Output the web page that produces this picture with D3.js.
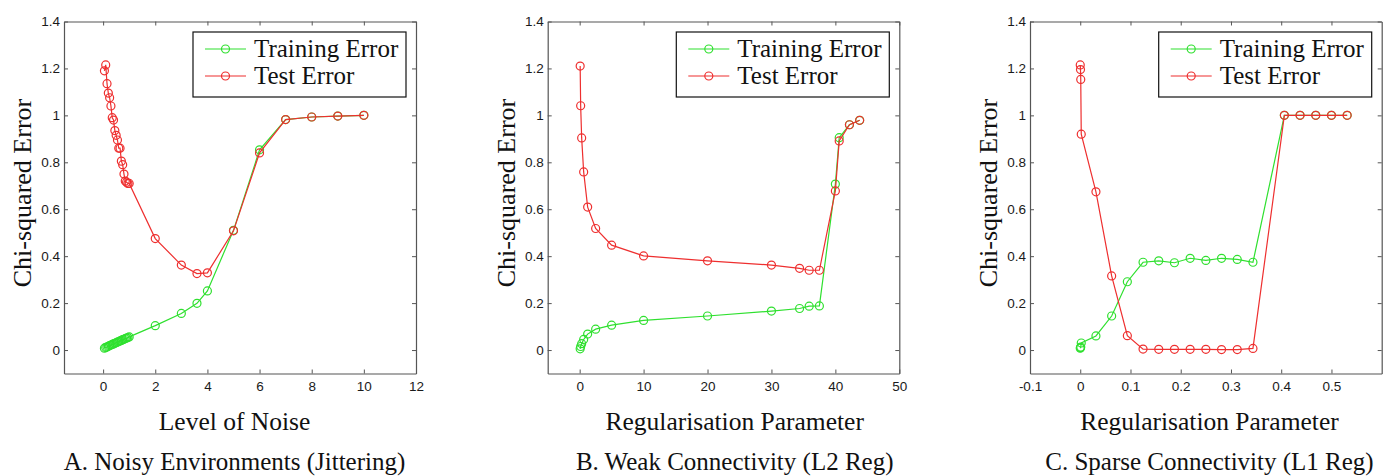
<!DOCTYPE html>
<html>
<head>
<meta charset="utf-8">
<script src="https://cdn.jsdelivr.net/npm/d3@7"></script>
<style>
  html, body { margin: 0; padding: 0; background: #fff; }
  svg { display: block; }
</style>
</head>
<body>
<svg id="chart" width="1390" height="476"></svg>
<script>
// ---------- DATA ----------
const seriesNames = ["Training Error", "Test Error"];
const yTicks = [0, 0.2, 0.4, 0.6, 0.8, 1, 1.2, 1.4];

// Panel A: Noisy Environments (Jittering)
const noiseX = [0.05, 0.1, 0.15, 0.2, 0.25, 0.3, 0.35, 0.4, 0.45, 0.5, 0.55, 0.6, 0.65, 0.7, 0.75, 0.8, 0.85, 0.9, 0.95, 1.0,
                2, 3, 3.6, 4, 5, 6, 7, 8, 9, 10];
const noiseTrain = [0.008, 0.011, 0.013, 0.016, 0.019, 0.021, 0.024, 0.026, 0.029, 0.031, 0.034, 0.036, 0.039, 0.041, 0.044, 0.046, 0.049, 0.051, 0.053, 0.056,
                    0.104, 0.156, 0.199, 0.252, 0.51, 0.853, 0.982, 0.993, 0.997, 1.0];
const noiseTest = [1.19, 1.215, 1.135, 1.095, 1.075, 1.04, 0.99, 0.98, 0.935, 0.915, 0.895, 0.86, 0.86, 0.805, 0.79, 0.75, 0.72, 0.715, 0.71, 0.71,
                   0.475, 0.362, 0.326, 0.329, 0.508, 0.84, 0.982, 0.993, 0.997, 1.0];
const noiseXTicks = [0, 2, 4, 6, 8, 10, 12];

// Panel B: Weak Connectivity (L2 Reg)
const l2X = [0.078, 0.156, 0.3125, 0.625, 1.25, 2.5, 5, 10, 20, 30, 34.4, 35.9, 37.5, 40, 40.6, 42.2, 43.8];
const l2Train = [0.005, 0.015, 0.027, 0.045, 0.068, 0.089, 0.106, 0.126, 0.145, 0.166, 0.177, 0.187, 0.188, 0.707, 0.905, 0.96, 0.979];
const l2Test = [1.21, 1.041, 0.904, 0.759, 0.609, 0.518, 0.447, 0.401, 0.38, 0.362, 0.348, 0.34, 0.34, 0.678, 0.891, 0.96, 0.979];
const l2XTicks = [0, 10, 20, 30, 40, 50];

// Panel C: Sparse Connectivity (L1 Reg)
const l1X = [0, 0.0005, 0.001, 0.002, 0.03125, 0.0625, 0.09375, 0.125, 0.15625, 0.1875, 0.21875, 0.25, 0.28125, 0.3125, 0.34375,
             0.40625, 0.4375, 0.46875, 0.5, 0.53125];
const l1Train = [0.008, 0.01, 0.013, 0.03, 0.06, 0.145, 0.291, 0.374, 0.38, 0.372, 0.391, 0.382, 0.391, 0.386, 0.374,
                 1, 1, 1, 1, 1];
const l1Test = [1.215, 1.195, 1.153, 0.92, 0.674, 0.316, 0.061, 0.004, 0.003, 0.003, 0.003, 0.003, 0.002, 0.002, 0.007,
                1, 1, 1, 1, 1];
const l1XTicks = [-0.1, 0, 0.1, 0.2, 0.3, 0.4, 0.5];

const xLabels = ["Level of Noise", "Regularisation Parameter", "Regularisation Parameter"];
const captions = ["A. Noisy Environments (Jittering)", "B. Weak Connectivity (L2 Reg)", "C. Sparse Connectivity (L1 Reg)"];

// ---------- LAYOUT ----------
const panels = [
  { x: noiseX, train: noiseTrain, test: noiseTest, ticks: noiseXTicks, domain: [-1.5, 12],
    left: 64, right: 416, labelCx: 234.5 },
  { x: l2X, train: l2Train, test: l2Test, ticks: l2XTicks, domain: [-5, 50],
    left: 547.7, right: 899.3, labelCx: 734.7 },
  { x: l1X, train: l1Train, test: l1Test, ticks: l1XTicks, domain: [-0.1, 0.6],
    left: 1030, right: 1381.7, labelCx: 1209.5 }
];
const plotTop = 21.5, plotBottom = 373.5;
const colors = ["#2fe02f", "#ee2f2f"];
const axisColor = "#555";
const serif = "'Liberation Serif', 'Times New Roman', serif";
const sans = "'Liberation Sans', Arial, sans-serif";
const fmt = v => String(Math.round(v * 100) / 100);

const svg = d3.select("#chart");

panels.forEach((p, i) => {
  const xs = d3.scaleLinear().domain(p.domain).range([p.left, p.right]);
  const ys = d3.scaleLinear().domain([-0.1, 1.4]).range([plotBottom, plotTop]);
  const g = svg.append("g");

  // axes (MATLAB-style box with inward ticks)
  const styleAxis = sel => {
    sel.select(".domain").attr("stroke", axisColor).attr("stroke-width", 1.2).attr("fill", "none");
    sel.selectAll(".tick line").attr("stroke", axisColor).attr("stroke-width", 1);
    sel.selectAll(".tick text").attr("fill", "#1a1a1a").style("font-family", sans).style("font-size", "13.5px");
  };
  g.append("g").attr("transform", `translate(0,${plotBottom})`)
    .call(d3.axisBottom(xs).tickValues(p.ticks).tickFormat(fmt).tickSizeInner(-4).tickSizeOuter(0).tickPadding(8))
    .call(styleAxis);
  g.append("g").attr("transform", `translate(0,${plotTop})`)
    .call(d3.axisTop(xs).tickValues(p.ticks).tickFormat("").tickSizeInner(-4).tickSizeOuter(0))
    .call(styleAxis);
  g.append("g").attr("transform", `translate(${p.left},0)`)
    .call(d3.axisLeft(ys).tickValues(yTicks).tickFormat(fmt).tickSizeInner(-4).tickSizeOuter(0).tickPadding(4))
    .call(styleAxis);
  g.append("g").attr("transform", `translate(${p.right},0)`)
    .call(d3.axisRight(ys).tickValues(yTicks).tickFormat("").tickSizeInner(-4).tickSizeOuter(0))
    .call(styleAxis);

  // series
  [p.train, p.test].forEach((vals, si) => {
    const pts = p.x.map((xv, k) => [xv, vals[k]]);
    const line = d3.line().x(d => xs(d[0])).y(d => ys(d[1]));
    g.append("path").datum(pts).attr("d", line)
      .attr("fill", "none").attr("stroke", colors[si]).attr("stroke-width", 1.2);
    g.append("g").selectAll("circle").data(pts).join("circle")
      .attr("cx", d => xs(d[0])).attr("cy", d => ys(d[1])).attr("r", 4)
      .attr("fill", "none").attr("stroke", colors[si]).attr("stroke-width", 1.2);
  });

  // legend
  const lw = 213, lh = 65;
  const lx = p.right - 10 - lw, ly = plotTop + 10.5;
  const lg = g.append("g").attr("transform", `translate(${lx},${ly})`);
  lg.append("rect").attr("width", lw).attr("height", lh)
    .attr("fill", "#fff").attr("stroke", "#111").attr("stroke-width", 1.2);
  seriesNames.forEach((name, si) => {
    const cy = 17 + si * 27;
    lg.append("line").attr("x1", 12).attr("x2", 53).attr("y1", cy).attr("y2", cy)
      .attr("stroke", colors[si]).attr("stroke-width", 1.2);
    lg.append("circle").attr("cx", 32.5).attr("cy", cy).attr("r", 4)
      .attr("fill", "none").attr("stroke", colors[si]).attr("stroke-width", 1.2);
    lg.append("text").attr("x", 61).attr("y", cy + 8)
      .style("font-family", serif).style("font-size", "25px").attr("fill", "#111").text(name);
  });

  // y-axis label
  g.append("text")
    .attr("transform", `translate(${p.left - 33},193) rotate(-90)`)
    .attr("text-anchor", "middle")
    .style("font-family", serif).style("font-size", "26px").attr("fill", "#111")
    .text("Chi-squared Error");

  // x-axis label
  g.append("text").attr("x", p.labelCx).attr("y", 430).attr("text-anchor", "middle")
    .style("font-family", serif).style("font-size", "25.5px").attr("fill", "#111")
    .text(xLabels[i]);

  // caption
  g.append("text").attr("x", p.labelCx).attr("y", 470).attr("text-anchor", "middle")
    .style("font-family", serif).style("font-size", "25px").attr("fill", "#111")
    .text(captions[i]);
});
</script>
</body>
</html>
